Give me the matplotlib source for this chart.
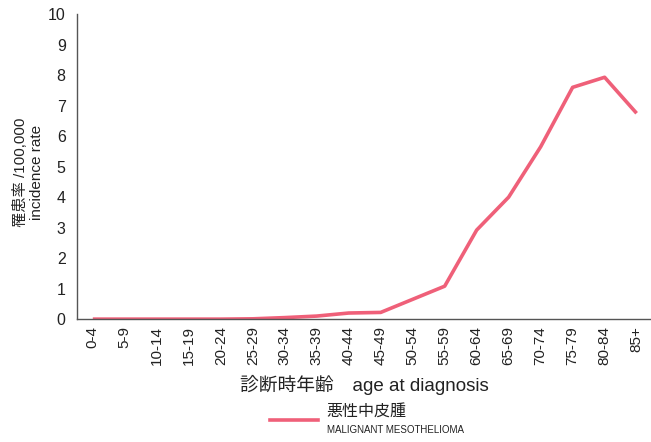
import matplotlib
matplotlib.use("Agg")
import matplotlib.pyplot as plt
from matplotlib.lines import Line2D

plt.rcParams['font.family'] = ['Liberation Sans', 'Noto Sans CJK JP', 'DejaVu Sans']

age_groups = ["0-4", "5-9", "10-14", "15-19", "20-24", "25-29", "30-34", "35-39",
              "40-44", "45-49", "50-54", "55-59", "60-64", "65-69", "70-74",
              "75-79", "80-84", "85+"]
incidence = [0.0, 0.0, 0.0, 0.0, 0.0, 0.01, 0.05, 0.1, 0.2, 0.22, 0.65, 1.08,
             2.92, 4.0, 5.65, 7.6, 7.93, 6.75]
y_ticks = list(range(0, 11))
line_color = "#ef6079"
series_label = "悪性中皮腫"
series_sublabel = "MALIGNANT MESOTHELIOMA"

fig = plt.figure(figsize=(6.51, 4.42), dpi=100)
ax = fig.add_axes([0.118, 0.278, 0.882, 0.69])
x = list(range(len(age_groups)))
ax.plot(x, incidence, color=line_color, linewidth=2.6, solid_capstyle='butt')
ax.set_xlim(-0.5, 17.45)
ax.set_ylim(0, 10)
ax.set_yticks(y_ticks)
ax.set_yticklabels([str(t) for t in y_ticks], fontsize=11.5, color="#222222")
ax.set_xticks(x)
ax.set_xticklabels(age_groups, rotation=90, fontsize=11, color="#222222")
ax.tick_params(axis='both', length=0)
ax.tick_params(axis='y', pad=8)
ax.tick_params(axis='x', pad=5)
for s in ['top', 'right']:
    ax.spines[s].set_visible(False)
for s in ['left', 'bottom']:
    ax.spines[s].set_color("#555555")
    ax.spines[s].set_linewidth(1.0)

ax.set_ylabel("罹患率 /100,000\nincidence rate", fontsize=11, color="#222222", linespacing=1.1)
ax.yaxis.set_label_coords(-0.058, 0.48)
ax.set_xlabel("診断時年齢　age at diagnosis", fontsize=13.5, color="#222222", labelpad=7)

fig.add_artist(Line2D([270/651, 318/651], [1 - 420/442, 1 - 420/442], color=line_color, linewidth=2.6,
                      transform=fig.transFigure))
fig.text(326/651, 1 - 412/442, series_label, fontsize=11.5, va='center', ha='left', color="#222222")
fig.text(327/651, 1 - 430/442, series_sublabel, fontsize=7, va='center', ha='left', color="#222222",
         family=['Liberation Sans Narrow', 'Liberation Sans'])

fig.savefig("out.png", dpi=100)
